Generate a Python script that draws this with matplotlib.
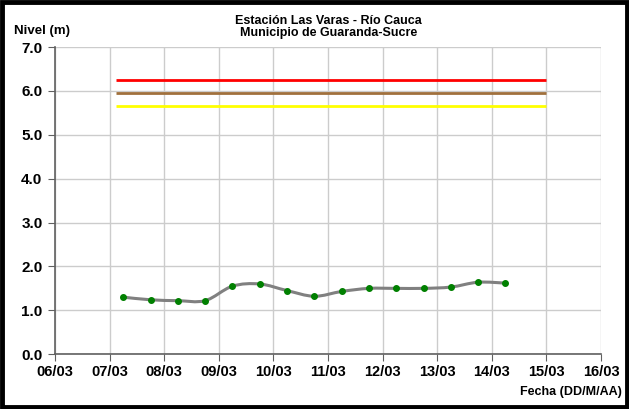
import numpy as np
import matplotlib
matplotlib.use("Agg")
import matplotlib.pyplot as plt
import matplotlib.dates as mdates
from matplotlib.path import Path
from matplotlib.patches import PathPatch, Rectangle
from datetime import datetime, timedelta

plt.rcParams['font.family'] = ['Liberation Sans', 'DejaVu Sans']

# readings every 12 h from 07/03 06:00 to 14/03 06:00
times = [datetime(2012, 3, 7, 6) + timedelta(hours=12 * i) for i in range(15)]
nivel = [1.30, 1.24, 1.22, 1.22, 1.55, 1.60, 1.45, 1.32, 1.43, 1.50, 1.50, 1.50, 1.53, 1.64, 1.62]

# alert thresholds (m)
umbral_start = datetime(2012, 3, 7, 3)
umbral_end = datetime(2012, 3, 15)
umbral_rojo = 6.25
umbral_naranja = 5.95
umbral_amarillo = 5.65

xmin = datetime(2012, 3, 6)
xmax = datetime(2012, 3, 16)


def smooth_path(x, y):
    # Catmull-Rom style control points -> cubic Bezier, like Excel's smoothed line
    pts = np.column_stack([x, y])
    verts = [pts[0]]
    codes = [Path.MOVETO]
    n = len(pts)
    for i in range(n - 1):
        p0 = pts[i - 1] if i > 0 else pts[i]
        p1 = pts[i]
        p2 = pts[i + 1]
        p3 = pts[i + 2] if i + 2 < n else pts[i + 1]
        c1 = p1 + (p2 - p0) / 6.0
        c2 = p2 - (p3 - p1) / 6.0
        verts += [c1, c2, p2]
        codes += [Path.CURVE4] * 3
    return Path(verts, codes)


fig = plt.figure(figsize=(6.29, 4.09), dpi=100)
ax = fig.add_axes([0.0874, 0.134, 0.8681, 0.751])

tx = mdates.date2num(times)
ax.add_patch(PathPatch(smooth_path(tx, np.array(nivel)), facecolor='none',
                       edgecolor='#808080', lw=2.2, zorder=3))
ax.plot(tx, nivel, ls='none', marker='o', ms=4, color='#008000', zorder=4)

for val, col in [(umbral_rojo, '#ff0000'), (umbral_naranja, '#a0703c'), (umbral_amarillo, '#ffff00')]:
    ax.plot([umbral_start, umbral_end], [val, val], color=col, lw=2, zorder=3,
            solid_capstyle='butt')

ax.set_xlim(xmin, xmax)
ax.set_ylim(0, 7)
ax.xaxis.set_major_locator(mdates.DayLocator())
ax.xaxis.set_major_formatter(mdates.DateFormatter('%d/%m'))
ax.set_yticks(np.arange(0, 7.1, 1.0))
ax.yaxis.set_major_formatter(plt.FormatStrFormatter('%.1f'))

ax.grid(True, color='#cccccc', lw=1)
ax.set_axisbelow(True)
for s in ['top', 'right']:
    ax.spines[s].set_visible(False)
for s in ['left', 'bottom']:
    ax.spines[s].set_color('#606060')
    ax.spines[s].set_linewidth(1.2)

ax.tick_params(axis='x', length=5, color='#606060', labelsize=10.5, pad=3)
ax.tick_params(axis='y', length=5, color='#606060', labelsize=11, pad=4)
for lab in ax.get_xticklabels() + ax.get_yticklabels():
    lab.set_fontweight('bold')

fig.text(0.522, 0.935, 'Estación Las Varas - Río Cauca\nMunicipio de Guaranda-Sucre',
         ha='center', va='center', fontsize=9, fontweight='bold', linespacing=1.0)
fig.text(0.022, 0.925, 'Nivel (m)', ha='left', va='center', fontsize=9.5, fontweight='bold')
fig.text(0.988, 0.042, 'Fecha (DD/M/AA)', ha='right', va='center', fontsize=9, fontweight='bold')

fig.patches.append(Rectangle((0.003, 0.004), 0.994, 0.992, transform=fig.transFigure,
                             fill=False, edgecolor='black', lw=3.5))

fig.savefig('out.png', dpi=100)
